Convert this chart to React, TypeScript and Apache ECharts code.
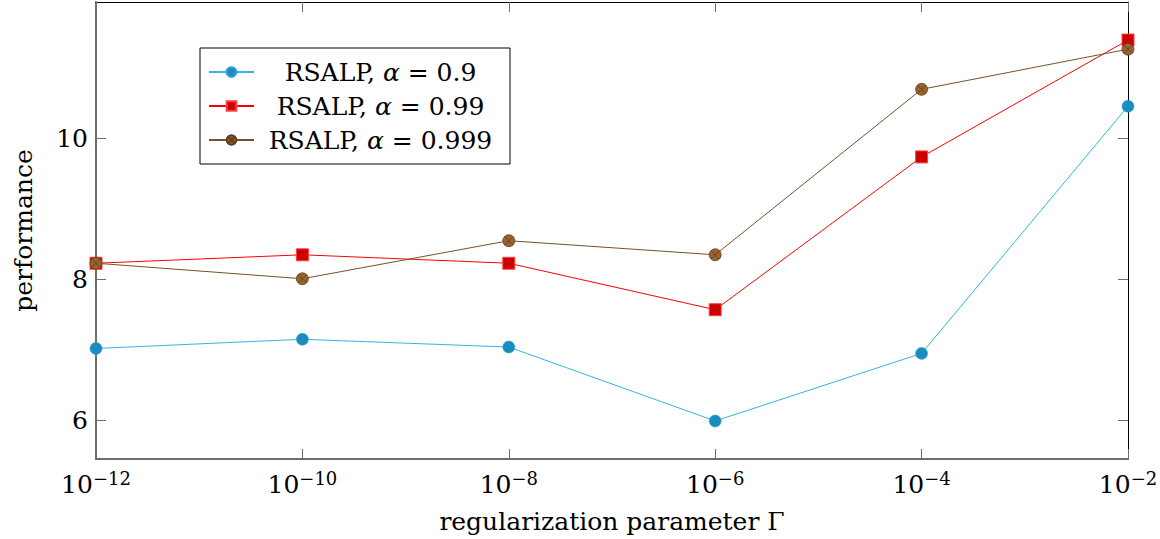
import React, { useEffect, useRef } from "react";
import * as echarts from "echarts";

const exponents = [-12, -10, -8, -6, -4, -2];
const alpha09 = [7.02, 7.15, 7.04, 5.99, 6.95, 10.46];
const alpha099 = [8.23, 8.35, 8.23, 7.57, 9.74, 11.4];
const alpha0999 = [8.23, 8.01, 8.55, 8.35, 10.7, 11.27];
const seriesNames = ["RSALP, α = 0.9", "RSALP, α = 0.99", "RSALP, α = 0.999"];
const yTicks = [6, 8, 10];

const FONT = "DejaVu Serif";
const OTIMES =
  "path://M0,-1 A1,1 0 1,1 0,1 A1,1 0 1,1 0,-1 Z M-0.707,-0.707 L0.707,0.707 M0.707,-0.707 L-0.707,0.707";

function pairs(vals: number[]) {
  return exponents.map((e, i) => [e, vals[i]]);
}

export default function App() {
  const ref = useRef<HTMLDivElement>(null);
  useEffect(() => {
    if (!ref.current) return;
    const chart = echarts.init(ref.current, null, { renderer: "svg" });
    const grey = "#6e6e6e";
    const tickStyle = { show: true, inside: true, length: 10, lineStyle: { color: grey, width: 1 } };
    const xLabel = (v: number) => `{b|10}{s|\u2212${Math.abs(v)}}`;
    const richCenter = {
      n: { fontFamily: FONT, fontSize: 25, color: "#000", align: "center" },
      i: { fontFamily: FONT, fontSize: 25, color: "#000", fontStyle: "italic", align: "center" },
    };
    chart.setOption({
      animation: false,
      backgroundColor: "#fff",
      grid: { left: 96, right: 32, top: 2, bottom: 80, outerBoundsMode: "none", containLabel: false },
      legend: {
        orient: "vertical",
        left: 200,
        top: 48,
        data: seriesNames,
        itemWidth: 45,
        itemHeight: 12,
        itemGap: 4,
        padding: [9, 8, 9, 8],
        borderColor: "#000",
        borderWidth: 1,
        backgroundColor: "#fff",
        formatter: (name: string) => {
          const parts = name.split("α");
          return `{n|${parts[0]}}{i|α}{n|${parts[1]}}`;
        },
        textStyle: { width: 243, fontFamily: FONT, fontSize: 25, lineHeight: 30, rich: richCenter },
      },
      xAxis: [
        {
          type: "value",
          min: -12,
          max: -2,
          interval: 2,
          position: "bottom",
          axisLine: { show: true, lineStyle: { color: grey, width: 2 } },
          axisTick: tickStyle,
          splitLine: { show: false },
          axisLabel: {
            margin: 10,
            formatter: xLabel,
            rich: {
              b: { fontFamily: FONT, fontSize: 25, color: "#000", lineHeight: 30 },
              s: { fontFamily: FONT, fontSize: 18, color: "#000", verticalAlign: "top", lineHeight: 18 },
            },
          },
          name: "regularization parameter Γ",
          nameLocation: "middle",
          nameGap: 50,
          nameTextStyle: { fontFamily: FONT, fontSize: 25, color: "#000" },
        },
        {
          type: "value",
          min: -12,
          max: -2,
          interval: 2,
          position: "top",
          axisLine: { show: true, lineStyle: { color: "#000", width: 1 } },
          axisTick: tickStyle,
          axisLabel: { show: false },
          splitLine: { show: false },
        },
      ],
      yAxis: [
        {
          type: "value",
          min: 5.45,
          max: 11.94,
          splitNumber: 3,
          position: "left",
          axisLine: { show: true, lineStyle: { color: grey, width: 2 } },
          axisTick: { ...tickStyle, customValues: yTicks },
          splitLine: { show: false },
          axisLabel: {
            customValues: yTicks,
            margin: 8,
            fontFamily: FONT,
            fontSize: 25,
            color: "#000",
          },
          name: "performance",
          nameLocation: "middle",
          nameGap: 60,
          nameTextStyle: { fontFamily: FONT, fontSize: 25, color: "#000" },
        },
        {
          type: "value",
          min: 5.45,
          max: 11.94,
          splitNumber: 3,
          position: "right",
          axisLine: { show: true, lineStyle: { color: "#000", width: 1 } },
          axisTick: { ...tickStyle, customValues: yTicks },
          axisLabel: { show: false },
          splitLine: { show: false },
        },
      ],
      series: [
        {
          name: seriesNames[0],
          type: "line",
          data: pairs(alpha09),
          symbol: "circle",
          symbolSize: 12,
          lineStyle: { color: "#36b2e4", width: 1 },
          itemStyle: { color: "#1b8cbe", borderColor: "#2a9fd0", borderWidth: 0.5 },
          z: 3,
        },
        {
          name: seriesNames[1],
          type: "line",
          data: pairs(alpha099),
          symbol: "rect",
          symbolSize: 12,
          lineStyle: { color: "#ff0000", width: 1 },
          itemStyle: { color: "#cc0000", borderColor: "#ff4040", borderWidth: 1 },
          z: 4,
        },
        {
          name: seriesNames[2],
          type: "line",
          data: pairs(alpha0999),
          symbol: OTIMES,
          symbolSize: 12,
          lineStyle: { color: "#77502c", width: 1 },
          itemStyle: { color: "#99622e", borderColor: "#5e3d1d", borderWidth: 0.8 },
          z: 5,
        },
      ],
    });
    return () => chart.dispose();
  }, []);
  return (
    <div
      ref={ref}
      style={{ position: "fixed", left: 0, top: 0, width: 1160, height: 539, background: "#fff" }}
    />
  );
}
